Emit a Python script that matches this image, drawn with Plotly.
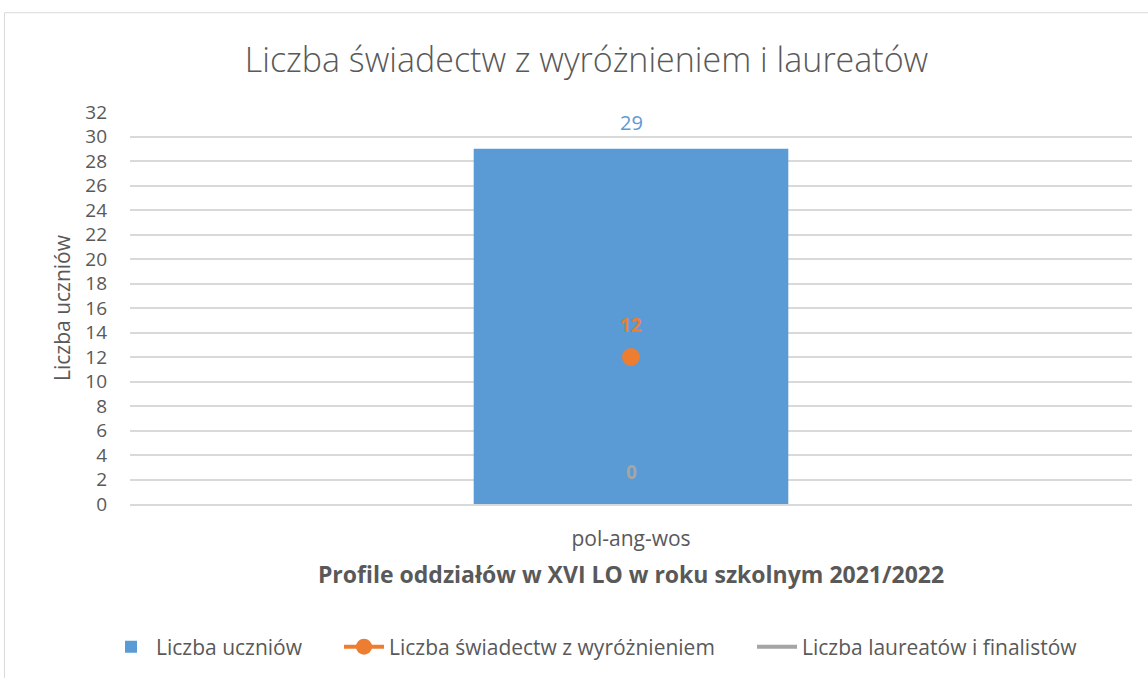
import plotly.graph_objects as go

categories = ["pol-ang-wos"]
uczniowie = [29]
wyroznienia = [12]
laureaci = [0]

series_names = ["Liczba uczniów", "Liczba świadectw z wyróżnieniem", "Liczba laureatów i finalistów"]
tick_vals = list(range(0, 33, 2))

BLUE = "#5b9bd5"
ORANGE = "#ed7d31"
GRAY = "#a5a5a5"
TXT = "#595959"
FONT = "Open Sans"

W, H = 1148, 678
L, R, T, B = 130, 16, 112, 173
pw, ph = W - L - R, H - T - B

fig = go.Figure()
fig.add_trace(go.Bar(x=categories, y=uczniowie, name=series_names[0], legend="legend",
                     marker=dict(color=BLUE, line=dict(width=0)), width=0.314))
fig.add_trace(go.Scatter(x=categories, y=wyroznienia, name=series_names[1], legend="legend2",
                         mode="lines+markers", line=dict(color=ORANGE, width=4),
                         marker=dict(color=ORANGE, size=18)))
fig.add_trace(go.Scatter(x=categories, y=laureaci, name=series_names[2], legend="legend3",
                         mode="lines", line=dict(color=GRAY, width=4)))

for c, v in zip(categories, uczniowie):
    fig.add_annotation(x=c, y=v, text=str(v), showarrow=False, yshift=26,
                       font=dict(family=FONT, size=20, color=BLUE))
for c, v in zip(categories, wyroznienia):
    fig.add_annotation(x=c, y=v, text="<b>%d</b>" % v, showarrow=False, yshift=32,
                       font=dict(family=FONT, size=19, color=ORANGE))
for c, v in zip(categories, laureaci):
    fig.add_annotation(x=c, y=v, text="<b>%d</b>" % v, showarrow=False, yshift=32,
                       font=dict(family=FONT, size=19, color=GRAY))

# chart-area border
x0 = (4.5 - L) / pw
x1 = (W + 5 - L) / pw
y0 = (T + ph - (H + 5)) / ph
y1 = (T + ph - 12.5) / ph
fig.add_shape(type="rect", xref="paper", yref="paper", x0=x0, x1=x1, y0=y0, y1=y1,
              line=dict(color="#d9d9d9", width=1), layer="below")


def legend_at(px):
    return dict(orientation="h", xref="paper", yref="paper", x=(px - L) / pw, xanchor="left",
                y=(T + ph - 647) / ph, yanchor="middle", bgcolor="rgba(0,0,0,0)",
                font=dict(family=FONT, size=21, color=TXT), itemwidth=40)


fig.update_layout(
    width=W, height=H,
    margin=dict(l=L, r=R, t=T, b=B),
    paper_bgcolor="white", plot_bgcolor="white",
    font=dict(family=FONT, color=TXT),
    title=dict(text="Liczba świadectw z wyróżnieniem i laureatów", xref="container",
               x=586.5 / W, xanchor="center", yref="container", y=1 - 60 / H, yanchor="middle",
               font=dict(family=FONT, size=34, color=TXT, weight=300)),
    showlegend=True,
    legend=legend_at(106),
    legend2=legend_at(339),
    legend3=legend_at(752),
    yaxis=dict(range=[0, 32], tickvals=tick_vals, showgrid=True, gridcolor="#d9d9d9",
               gridwidth=1.5, zeroline=False, showline=False, ticks="",
               tickfont=dict(family=FONT, size=19, color=TXT), ticklabelstandoff=22,
               title=dict(text="Liczba uczniów", font=dict(family=FONT, size=21, color=TXT),
                          standoff=8)),
    xaxis=dict(showgrid=False, zeroline=False, showline=True, linecolor="#d9d9d9", linewidth=1.5,
               ticks="", tickfont=dict(family=FONT, size=21, color=TXT), ticklabelstandoff=15,
               title=dict(text="<b>Profile oddziałów w XVI LO w roku szkolnym 2021/2022</b>",
                          font=dict(family=FONT, size=23, color=TXT), standoff=16)),
)

fig.write_html("out.html", config={"displayModeBar": False},
               post_script="document.body.style.margin='0';")
